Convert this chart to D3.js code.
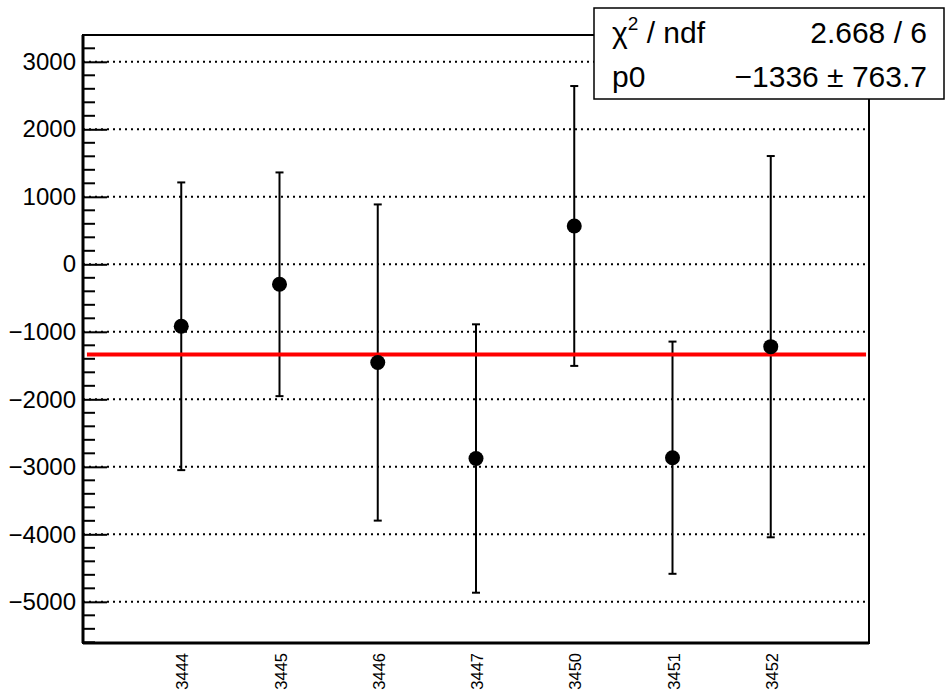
<!DOCTYPE html>
<html>
<head>
<meta charset="utf-8">
<script src="https://cdn.jsdelivr.net/npm/d3@7"></script>
<style>
  html, body { margin: 0; padding: 0; background: #fff; }
  text { font-family: "Liberation Sans", Arial, Helvetica, sans-serif; }
</style>
</head>
<body>
<svg id="chart" width="945" height="693"></svg>
<script>
// ---- data ----
const runs = ["3444", "3445", "3446", "3447", "3450", "3451", "3452"];
const values = [-918, -296, -1455, -2877, 568, -2865, -1220];
const errors = [2131, 1657, 2342, 1988, 2073, 1720, 2824];
const yTicks = [-5000, -4000, -3000, -2000, -1000, 0, 1000, 2000, 3000];
const fitValue = -1336;
const fitRange = [0.04, 7.97];
const statsLabels = ["χ2 / ndf", "p0"];
const statsValues = ["2.668 / 6", "−1336 ± 763.7"];

// ---- layout ----
const svg = d3.select("#chart");
const L = 83, R = 869, T = 35, B = 643;

const x = d3.scaleLinear().domain([0, runs.length + 1]).range([L, R]);
const y = d3.scaleLinear().domain([-5610, 3397]).range([B, T]);

const fmt = v => (v < 0 ? "\u2212" + Math.abs(v) : String(v));

// grid lines (dotted)
svg.append("g").selectAll("line").data(yTicks).join("line")
  .attr("x1", L).attr("x2", R)
  .attr("y1", d => y(d)).attr("y2", d => y(d))
  .attr("stroke", "#000").attr("stroke-width", 2)
  .attr("stroke-dasharray", "2 4");

// y axis with major ticks
const yAxis = d3.axisLeft(y).tickValues(yTicks).tickSize(-24).tickPadding(7).tickFormat(fmt);
const gy = svg.append("g").attr("transform", `translate(${L},0)`).call(yAxis);
gy.select(".domain").remove();
gy.selectAll(".tick line").attr("stroke", "#000").attr("stroke-width", 2);
gy.selectAll(".tick text").attr("font-size", 24).attr("fill", "#000")
  .attr("font-family", "'Liberation Sans', Arial, sans-serif");

// minor ticks
const minor = d3.range(-5600, 3400, 200).filter(v => !yTicks.includes(v));
svg.append("g").selectAll("line").data(minor).join("line")
  .attr("x1", L).attr("x2", L + 12)
  .attr("y1", d => y(d)).attr("y2", d => y(d))
  .attr("stroke", "#000").attr("stroke-width", 2);

// frame
svg.append("rect").attr("x", L).attr("y", T).attr("width", R - L).attr("height", B - T)
  .attr("fill", "none").attr("stroke", "#000").attr("stroke-width", 2);
svg.append("line").attr("x1", L).attr("x2", L).attr("y1", T).attr("y2", B)
  .attr("stroke", "#000").attr("stroke-width", 3);
svg.append("line").attr("x1", L).attr("x2", R).attr("y1", B).attr("y2", B)
  .attr("stroke", "#000").attr("stroke-width", 3);

// x labels (rotated)
svg.append("g").selectAll("text").data(runs).join("text")
  .attr("transform", (d, i) => `translate(${x(i + 1) + 7},653) rotate(-90)`)
  .attr("text-anchor", "end")
  .attr("font-size", 16.5)
  .attr("fill", "#000")
  .text(d => d);

// error bars
const pts = runs.map((r, i) => ({ i: i + 1, v: values[i], e: errors[i] }));
const eb = svg.append("g");
eb.selectAll("line.v").data(pts).join("line").attr("class", "v")
  .attr("x1", d => x(d.i)).attr("x2", d => x(d.i))
  .attr("y1", d => y(d.v + d.e)).attr("y2", d => y(d.v - d.e))
  .attr("stroke", "#000").attr("stroke-width", 2);
eb.selectAll("line.ct").data(pts).join("line").attr("class", "ct")
  .attr("x1", d => x(d.i) - 4).attr("x2", d => x(d.i) + 4)
  .attr("y1", d => y(d.v + d.e)).attr("y2", d => y(d.v + d.e))
  .attr("stroke", "#000").attr("stroke-width", 2);
eb.selectAll("line.cb").data(pts).join("line").attr("class", "cb")
  .attr("x1", d => x(d.i) - 4).attr("x2", d => x(d.i) + 4)
  .attr("y1", d => y(d.v - d.e)).attr("y2", d => y(d.v - d.e))
  .attr("stroke", "#000").attr("stroke-width", 2);

// fit line
svg.append("line")
  .attr("x1", x(fitRange[0])).attr("x2", x(fitRange[1]))
  .attr("y1", y(fitValue)).attr("y2", y(fitValue))
  .attr("stroke", "#ff0000").attr("stroke-width", 4);

// markers
svg.append("g").selectAll("circle").data(pts).join("circle")
  .attr("cx", d => x(d.i)).attr("cy", d => y(d.v)).attr("r", 7.5)
  .attr("fill", "#000");

// stats box
svg.append("rect").attr("x", 594).attr("y", 8).attr("width", 350).attr("height", 91)
  .attr("fill", "#fff").attr("stroke", "#000").attr("stroke-width", 1.5);
const rowsY = [43, 87];
const lab = svg.append("g");
statsLabels.forEach((s, i) => {
  const t = lab.append("text").attr("x", 612).attr("y", rowsY[i])
    .attr("font-size", 30).attr("fill", "#000");
  if (i === 0) {
    t.append("tspan").text("χ");
    t.append("tspan").attr("font-size", 19).attr("dy", -13).text("2");
    t.append("tspan").attr("dy", 13).text(" / ndf");
  } else {
    t.text(s);
  }
  lab.append("text").attr("x", 927).attr("y", rowsY[i])
    .attr("text-anchor", "end").attr("font-size", 30).attr("fill", "#000")
    .text(statsValues[i]);
});
</script>
</body>
</html>
